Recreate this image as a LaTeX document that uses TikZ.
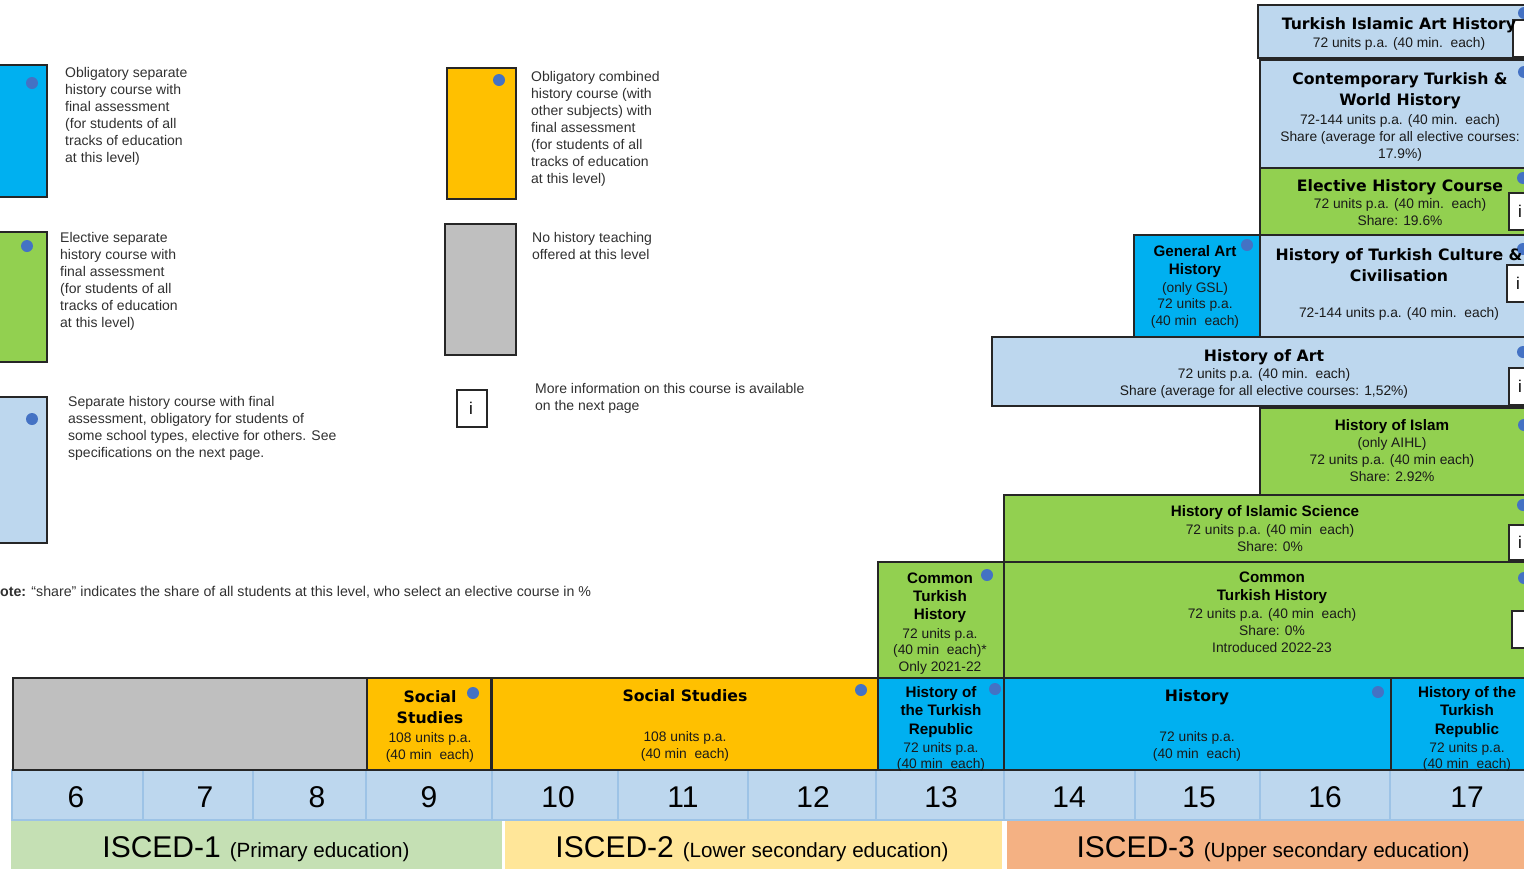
\documentclass[tikz,border=0pt]{standalone}
\usepackage{fontspec}
\setmainfont{Liberation Sans}
\newfontfamily\dvs{DejaVu Sans}
\usetikzlibrary{fit}
\definecolor{cblue}{HTML}{00B0F0}
\definecolor{cgreen}{HTML}{92D050}
\definecolor{clight}{HTML}{BDD7EE}
\definecolor{corange}{HTML}{FFC000}
\definecolor{cgrey}{HTML}{BFBFBF}
\definecolor{cdot}{HTML}{4472C4}
\definecolor{cisa}{HTML}{C5E0B4}
\definecolor{cisb}{HTML}{FFE699}
\definecolor{cisc}{HTML}{F4B183}
\definecolor{cgbd}{HTML}{9DC3E6}
\definecolor{bd}{HTML}{262626}
\definecolor{txt}{HTML}{1A1A1A}
\definecolor{legtxt}{HTML}{303030}
\newcommand\fbody{\fontsize{13.8}{17}\selectfont}
\newcommand\fbodyn{\fontsize{13.8}{16.5}\selectfont}
\newcommand\fleg{\fontsize{14}{17}\selectfont}
\newcommand\ftA{\dvs\bfseries\fontsize{15.7}{21}\selectfont}
\newcommand\ftB{\bfseries\fontsize{15.2}{18.3}\selectfont}
\begin{document}
\begin{tikzpicture}[x=1pt,y=-1pt,
  cbox/.style={draw=bd, line width=1.4pt, inner sep=0pt},
  gbox/.style={draw=cgbd, line width=1.4pt, inner sep=0pt, fill=clight},
  tb/.style={anchor=north, inner sep=0pt, align=center, font=\fbody, text=txt},
  tbn/.style={anchor=north, inner sep=0pt, align=center, font=\fbodyn, text=txt},
  ta/.style={anchor=north, inner sep=0pt, align=center, font=\ftA, text=black},
  tbb/.style={anchor=north, inner sep=0pt, align=center, font=\ftB, text=black},
  leg/.style={anchor=north west, inner sep=0pt, align=left, font=\fleg, text=legtxt},
  dotn/.style={circle, fill=cdot, inner sep=0pt, minimum size=12pt},
  ibox/.style={draw=bd, line width=1.2pt, fill=white, inner sep=0pt},
  itxt/.style={inner sep=0pt, font=\fontsize{17}{17}\selectfont, text=black},
  grade/.style={anchor=base, inner sep=0pt, font=\fontsize{30}{30}\selectfont, text=black},
  isced/.style={anchor=base, inner sep=0pt, text=black}
]
\useasboundingbox (0,0) rectangle (1524,868);
\clip (0,0) rectangle (1524,868);

% ---------------- Legend ----------------
\node[cbox, fill=cblue, fit={(-10,65) (47,197)}] (lgA) {};
\node[dotn] (lgAd) at (32,83) {};
\node[leg] (lgAt) at (65,66.9) {Obligatory separate\\history course with\\final assessment\\(for students of all\\tracks of education\\at this level)};

\node[cbox, fill=cgreen, fit={(-10,232) (47,362)}] (lgB) {};
\node[dotn] (lgBd) at (27,246) {};
\node[leg] (lgBt) at (60,231.9) {Elective separate\\history course with\\final assessment\\(for students of all\\tracks of education\\at this level)};

\node[cbox, fill=clight, fit={(-10,397) (47,543)}] (lgC) {};
\node[dotn] (lgCd) at (32,419) {};
\node[leg] (lgCt) at (68,395.9) {Separate history course with final\\assessment, obligatory for students of\\some school types, elective for others. See\\specifications on the next page.};

\node[cbox, fill=corange, fit={(447,68) (516,199)}] (lgD) {};
\node[dotn] (lgDd) at (499,80) {};
\node[leg] (lgDt) at (531,70.9) {Obligatory combined\\history course (with\\other subjects) with\\final assessment\\(for students of all\\tracks of education\\at this level)};

\node[cbox, fill=cgrey, fit={(445,224) (516,355)}] (lgE) {};
\node[leg] (lgEt) at (532,231.9) {No history teaching\\offered at this level};

\node[ibox, fit={(457,390) (487,427)}] (lgF) {};
\node[itxt] (lgFi) at (471,408) {i};
\node[leg] (lgFt) at (535,382.9) {More information on this course is available\\on the next page};

\node[anchor=base west, inner sep=0pt, font=\fontsize{14.2}{16}\selectfont, text=legtxt] (note) at (0,596)
  {\textbf{ote:} “share” indicates the share of all students at this level, who select an elective course in \%};

% ---------------- ISCED bars ----------------
\node[inner sep=0pt, fill=cisa, fit={(11,821) (502,872)}] (iscA) {};
\node[inner sep=0pt, fill=cisb, fit={(505,821) (1002,872)}] (iscB) {};
\node[inner sep=0pt, fill=cisc, fit={(1007,821) (1530,872)}] (iscC) {};
\node[isced] (iscAt) at (256,857) {\fontsize{30}{30}\selectfont ISCED-1\hspace{9pt}\fontsize{20.6}{22}\selectfont(Primary education)};
\node[isced] (iscBt) at (752,857) {\fontsize{30}{30}\selectfont ISCED-2\hspace{9pt}\fontsize{20.6}{22}\selectfont(Lower secondary education)};
\node[isced] (iscCt) at (1273,857) {\fontsize{30}{30}\selectfont ISCED-3\hspace{9pt}\fontsize{20.6}{22}\selectfont(Upper secondary education)};

% ---------------- Grade row ----------------
\node[gbox, fit={(12,770) (143,820)}] (g6) {};
\node[gbox, fit={(143,770) (253,820)}] (g7) {};
\node[gbox, fit={(253,770) (366,820)}] (g8) {};
\node[gbox, fit={(366,770) (492,820)}] (g9) {};
\node[gbox, fit={(492,770) (618,820)}] (g10) {};
\node[gbox, fit={(618,770) (748,820)}] (g11) {};
\node[gbox, fit={(748,770) (876,820)}] (g12) {};
\node[gbox, fit={(876,770) (1004,820)}] (g13) {};
\node[gbox, fit={(1004,770) (1135,820)}] (g14) {};
\node[gbox, fit={(1135,770) (1260,820)}] (g15) {};
\node[gbox, fit={(1260,770) (1390,820)}] (g16) {};
\node[gbox, fit={(1390,770) (1530,820)}] (g17) {};
\node[grade] (n6) at (76,807) {6};
\node[grade] (n7) at (205,807) {7};
\node[grade] (n8) at (317,807) {8};
\node[grade] (n9) at (429,807) {9};
\node[grade] (n10) at (558,807) {10};
\node[grade] (n11) at (683,807) {11};
\node[grade] (n12) at (813,807) {12};
\node[grade] (n13) at (941,807) {13};
\node[grade] (n14) at (1069,807) {14};
\node[grade] (n15) at (1199,807) {15};
\node[grade] (n16) at (1325,807) {16};
\node[grade] (n17) at (1467,807) {17};

% ---------------- Course row ----------------
\node[cbox, fill=cgrey, fit={(13,678) (367,770)}] (none) {};

\node[cbox, fill=corange, fit={(367,678) (491,770)}] (ssA) {};
\node[dotn] (ssAd) at (473,693) {};
\node[ta] (ssAt) at (430,690.2) {Social\\Studies};
\node[tb] (ssAb) at (430,731.9) {108 units p.a.\\(40 min\ \ each)};

\node[cbox, fill=corange, fit={(492,678) (878,770)}] (ssB) {};
\node[dotn] (ssBd) at (861,690) {};
\node[ta] (ssBt) at (685,689.2) {Social Studies};
\node[tb] (ssBb) at (685,730.9) {108 units p.a.\\(40 min\ \ each)};

\node[cbox, fill=cblue, fit={(878,678) (1004,770)}] (htrA) {};
\node[dotn] (htrAd) at (995,689) {};
\node[tbb] (htrAt) at (941,686.4) {History of\\the Turkish\\Republic};
\node[tbn] (htrAb) at (941,741.9) {72 units p.a.\\(40 min\ \ each)};

\node[cbox, fill=cblue, fit={(1004,678) (1391,770)}] (hist) {};
\node[dotn] (histd) at (1378,692) {};
\node[ta] (histt) at (1197,689.2) {History};
\node[tb] (histb) at (1197,730.9) {72 units p.a.\\(40 min\ \ each)};

\node[cbox, fill=cblue, fit={(1391,678) (1530,770)}] (htrB) {};
\node[tbb] (htrBt) at (1467,686.4) {History of the\\Turkish\\Republic};
\node[tbn] (htrBb) at (1467,741.9) {72 units p.a.\\(40 min\ \ each)};

% ---------------- Common Turkish History ----------------
\node[cbox, fill=cgreen, fit={(878,562) (1004,678)}] (cthA) {};
\node[dotn] (cthAd) at (987,575) {};
\node[tbb] (cthAt) at (940,572.4) {Common\\Turkish\\History};
\node[tbn] (cthAb) at (940,627.9) {72 units p.a.\\(40 min\ \ each)*\\Only 2021-22};

\node[cbox, fill=cgreen, fit={(1004,562) (1530,678)}] (cthB) {};
\node[dotn] (cthBd) at (1524,578) {};
\node[tbb] (cthBt) at (1272,571.4) {Common\\Turkish History};
\node[tb] (cthBb) at (1272,607.9) {72 units p.a. (40 min\ \ each)\\Share: 0\%\\Introduced 2022-23};
\node[ibox, fit={(1512,611) (1540,648)}] (cthBi) {};

% ---------------- History of Islamic Science ----------------
\node[cbox, fill=cgreen, fit={(1004,495) (1530,562)}] (his) {};
\node[dotn] (hisd) at (1523,505) {};
\node[tbb] (hist2) at (1265,505.4) {History of Islamic Science};
\node[tb] (hisb) at (1270,523.9) {72 units p.a. (40 min\ \ each)\\Share: 0\%};
\node[ibox, fit={(1509,525) (1537,560)}] (hisi) {};
\node[itxt] (hisii) at (1520,542.5) {i};

% ---------------- History of Islam ----------------
\node[cbox, fill=cgreen, fit={(1260,408) (1530,495)}] (hoi) {};
\node[dotn] (hoid) at (1524,425) {};
\node[tbb] (hoit) at (1392,419.4) {History of Islam};
\node[tb] (hoib) at (1392,436.9) {(only AIHL)\\72 units p.a. (40 min each)\\Share: 2.92\%};

% ---------------- History of Art ----------------
\node[cbox, fill=clight, fit={(992,337) (1530,406)}] (hoa) {};
\node[dotn] (hoad) at (1523,352) {};
\node[ta] (hoat) at (1264,349.2) {History of Art};
\node[tb] (hoab) at (1264,367.9) {72 units p.a. (40 min.\ \ each)\\Share (average for all elective courses: 1,52\%)};
\node[ibox, fit={(1509,368) (1537,405)}] (hoai) {};
\node[itxt] (hoaii) at (1520,386.5) {i};

% ---------------- General Art History ----------------
\node[cbox, fill=cblue, fit={(1134,235) (1260,337)}] (gah) {};
\node[dotn] (gahd) at (1247,245) {};
\node[tbb] (gaht) at (1195,245.4) {General Art\\History};
\node[tbn] (gahb) at (1195,281.9) {(only GSL)\\72 units p.a.\\(40 min\ \ each)};

% ---------------- History of Turkish Culture & Civilisation ----------------
\node[cbox, fill=clight, fit={(1260,235) (1530,337)}] (htcc) {};
\node[dotn] (htccd) at (1523,249) {};
\node[ta] (htcct) at (1399,248.2) {History of Turkish Culture \&\\Civilisation};
\node[tb] (htccb) at (1399,306.9) {72-144 units p.a. (40 min.\ \ each)};
\node[ibox, fit={(1507,265) (1535,302)}] (htcci) {};
\node[itxt] (htccii) at (1518,283.5) {i};

% ---------------- Elective History Course ----------------
\node[cbox, fill=cgreen, fit={(1260,168) (1530,235)}] (ehc) {};
\node[dotn] (ehcd) at (1523,178) {};
\node[ta] (ehct) at (1400,179.2) {Elective History Course};
\node[tb] (ehcb) at (1400,197.9) {72 units p.a. (40 min.\ \ each)\\Share: 19.6\%};
\node[ibox, fit={(1509,193) (1537,230)}] (ehci) {};
\node[itxt] (ehcii) at (1520,211.5) {i};

% ---------------- Contemporary Turkish & World History ----------------
\node[cbox, fill=clight, fit={(1260,60) (1530,168)}] (ctwh) {};
\node[dotn] (ctwhd) at (1524,72) {};
\node[ta] (ctwht) at (1400,72.2) {Contemporary Turkish \&\\World History};
\node[tb] (ctwhb) at (1400,113.9) {72-144 units p.a. (40 min.\ \ each)\\Share (average for all elective courses:\\17.9\%)};

% ---------------- Turkish Islamic Art History ----------------
\node[cbox, fill=clight, fit={(1258,5) (1530,58)}] (tiah) {};
\node[dotn] (tiahd) at (1524,13) {};
\node[ibox, fit={(1513,20) (1541,57)}] (tiahi) {};
\node[ta] (tiaht) at (1399,17.2) {Turkish Islamic Art History};
\node[tb] (tiahb) at (1399,36.9) {72 units p.a. (40 min.\ \ each)};
\end{tikzpicture}
\end{document}
